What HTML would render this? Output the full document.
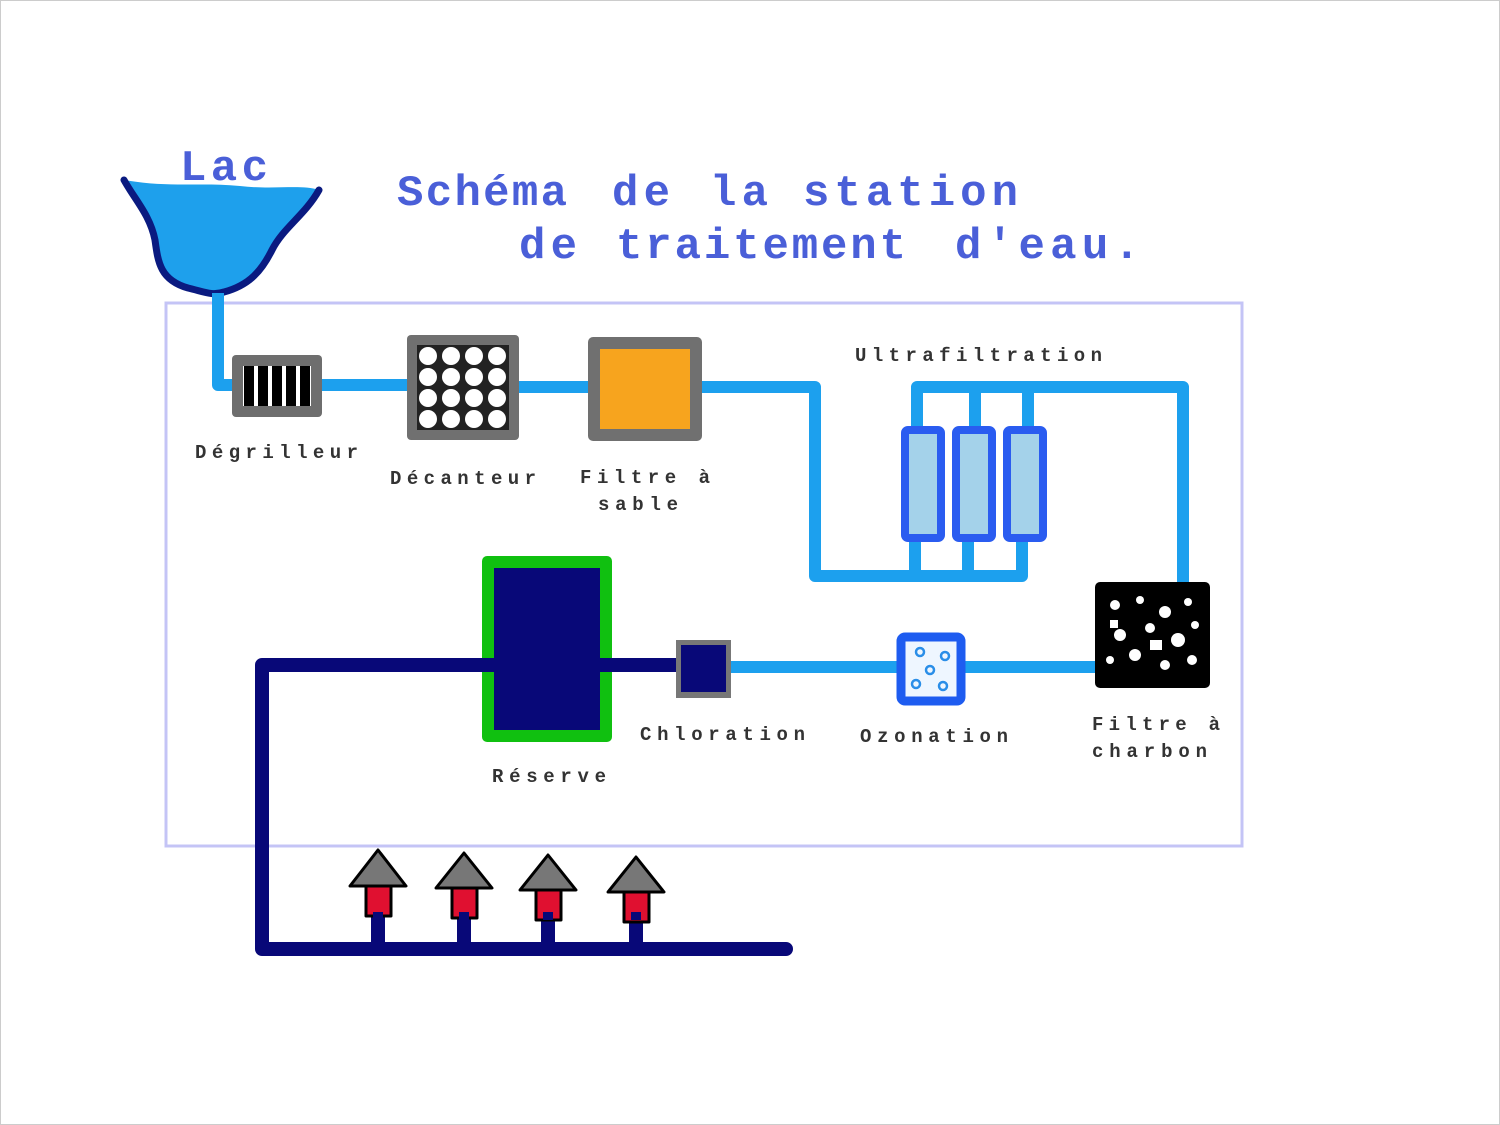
<!DOCTYPE html>
<html><head><meta charset="utf-8"><style>
html,body{margin:0;padding:0;background:#fff;}
svg{display:block;}
.t{font-family:"Liberation Mono",monospace;font-weight:bold;fill:#4a5fd8;font-size:44px;}
.l{font-family:"Liberation Mono",monospace;font-weight:bold;fill:#333;font-size:19px;}
</style></head><body>
<svg width="1500" height="1125" viewBox="0 0 1500 1125" xmlns="http://www.w3.org/2000/svg">
<rect x="0.5" y="0.5" width="1499" height="1124" fill="#fff" stroke="#ccc"/>
<!-- frame -->
<rect x="166" y="303" width="1076" height="543" fill="none" stroke="#c4c4f6" stroke-width="3"/>
<!-- lake -->
<path d="M124,180 C135,200 150,215 155,240 C158,262 160,280 188,288 C205,292 212,296 224,292 C250,285 262,270 272,250 C283,228 305,215 319,190 C300,184 275,190 240,186 C200,182 170,188 124,180 Z" fill="#1ea0ec"/>
<path d="M124,180 C135,200 150,215 155,240 C158,262 160,280 188,288 C205,292 212,296 224,292 C250,285 262,270 272,250 C283,228 305,215 319,190" fill="none" stroke="#0a1a80" stroke-width="7" stroke-linecap="round"/>
<text class="t" x="180" y="180" font-size="40" textLength="88">Lac</text>
<!-- title -->
<text class="t" x="397" y="205" textLength="170">Schéma</text>
<text class="t" x="612" y="205" textLength="58">de</text>
<text class="t" x="710" y="205" textLength="58">la</text>
<text class="t" x="803" y="205" textLength="215">station</text>
<text class="t" x="519" y="258" textLength="58">de</text>
<text class="t" x="616" y="258" textLength="290">traitement</text>
<text class="t" x="955" y="258" textLength="185">d'eau.</text>
<!-- light blue pipes -->
<g fill="none" stroke="#1ca0ee" stroke-width="12" stroke-linejoin="round">
<path d="M218,293 V385 H408"/>
<path d="M519,387 H590"/>
<path d="M700,387 H815 V576 H1022 V535"/>
<path d="M915,576 V535 M968,576 V535"/>
<path d="M917,430 V387 H1183 V585"/>
<path d="M975,387 V430 M1028,387 V430"/>
<path d="M731,667 H1100"/>
</g>
<!-- navy pipes -->
<g fill="none" stroke="#080878" stroke-width="14" stroke-linejoin="round" stroke-linecap="round">
<path d="M678,665 H262 V949 H786"/>
<path d="M378,949 V912 M464,949 V912 M548,949 V912 M636,949 V912"/>
</g>
<!-- degrilleur -->
<rect x="232" y="355" width="90" height="62" rx="4" fill="#6e6e6e"/>
<rect x="243" y="366" width="68" height="40" fill="#fff"/>
<g fill="#000"><rect x="244" y="366" width="10" height="40"/><rect x="258" y="366" width="10" height="40"/><rect x="272" y="366" width="10" height="40"/><rect x="286" y="366" width="10" height="40"/><rect x="300" y="366" width="10" height="40"/></g>
<!-- decanteur -->
<rect x="407" y="335" width="112" height="105" rx="4" fill="#707070"/>
<rect x="417" y="345" width="92" height="85" fill="#222"/>
<g fill="#fff">
<circle cx="428" cy="356" r="9"/><circle cx="451" cy="356" r="9"/><circle cx="474" cy="356" r="9"/><circle cx="497" cy="356" r="9"/>
<circle cx="428" cy="377" r="9"/><circle cx="451" cy="377" r="9"/><circle cx="474" cy="377" r="9"/><circle cx="497" cy="377" r="9"/>
<circle cx="428" cy="398" r="9"/><circle cx="451" cy="398" r="9"/><circle cx="474" cy="398" r="9"/><circle cx="497" cy="398" r="9"/>
<circle cx="428" cy="419" r="9"/><circle cx="451" cy="419" r="9"/><circle cx="474" cy="419" r="9"/><circle cx="497" cy="419" r="9"/>
</g>
<!-- sable -->
<rect x="588" y="337" width="114" height="104" rx="5" fill="#707070"/>
<rect x="600" y="349" width="90" height="80" fill="#f7a41e"/>
<!-- ultrafiltration -->
<g fill="#a4d2ea" stroke="#2a5cf0" stroke-width="8">
<rect x="905" y="430" width="36" height="108" rx="3"/>
<rect x="956" y="430" width="36" height="108" rx="3"/>
<rect x="1007" y="430" width="36" height="108" rx="3"/>
</g>
<!-- charbon -->
<rect x="1095" y="582" width="115" height="106" rx="5" fill="#000"/>
<g fill="#fff">
<circle cx="1115" cy="605" r="5"/><circle cx="1140" cy="600" r="4"/><circle cx="1165" cy="612" r="6"/><circle cx="1188" cy="602" r="4"/>
<circle cx="1120" cy="635" r="6"/><circle cx="1150" cy="628" r="5"/><circle cx="1178" cy="640" r="7"/><circle cx="1195" cy="625" r="4"/>
<circle cx="1110" cy="660" r="4"/><circle cx="1135" cy="655" r="6"/><circle cx="1165" cy="665" r="5"/><circle cx="1192" cy="660" r="5"/>
<rect x="1150" y="640" width="12" height="10"/><rect x="1110" y="620" width="8" height="8"/>
</g>
<!-- ozonation -->
<rect x="901" y="637" width="60" height="64" rx="4" fill="#eef6ff" stroke="#1e5cf0" stroke-width="9"/>
<g fill="none" stroke="#2a8ee8" stroke-width="2.5"><circle cx="920" cy="652" r="4"/><circle cx="945" cy="656" r="4"/><circle cx="930" cy="670" r="4"/><circle cx="916" cy="684" r="4"/><circle cx="943" cy="686" r="4"/></g>
<!-- chloration -->
<rect x="676" y="640" width="55" height="58" fill="#777"/>
<rect x="681" y="645" width="45" height="47" fill="#080878"/>
<!-- reserve -->
<rect x="482" y="556" width="130" height="186" rx="5" fill="#10c010"/>
<rect x="494" y="568" width="106" height="162" fill="#080878"/>
<rect x="482" y="658" width="14" height="14" fill="#080878"/>
<rect x="598" y="658" width="14" height="14" fill="#080878"/>
<!-- houses -->
<g stroke="#000" stroke-width="3" stroke-linejoin="round">
<polygon points="378,850 406,886 350,886" fill="#777"/><rect x="366" y="886" width="25" height="30" fill="#e01030"/>
<polygon points="464,853 492,888 436,888" fill="#777"/><rect x="452" y="888" width="25" height="30" fill="#e01030"/>
<polygon points="548,855 576,890 520,890" fill="#777"/><rect x="536" y="890" width="25" height="30" fill="#e01030"/>
<polygon points="636,857 664,892 608,892" fill="#777"/><rect x="624" y="892" width="25" height="30" fill="#e01030"/>
</g>
<g fill="#080878"><rect x="373" y="912" width="10" height="6"/><rect x="459" y="912" width="10" height="8"/><rect x="543" y="912" width="10" height="8"/><rect x="631" y="912" width="10" height="8"/></g>
<!-- labels -->
<text class="l" x="195" y="458" textLength="163">Dégrilleur</text>
<text class="l" x="390" y="484" textLength="146">Décanteur</text>
<text class="l" x="580" y="483" textLength="130">Filtre à</text>
<text class="l" x="598" y="510" textLength="80">sable</text>
<text class="l" x="855" y="361" textLength="247">Ultrafiltration</text>
<text class="l" x="640" y="740" textLength="165">Chloration</text>
<text class="l" x="860" y="742" textLength="148">Ozonation</text>
<text class="l" x="1092" y="730" textLength="128">Filtre à</text>
<text class="l" x="1092" y="757" textLength="115">charbon</text>
<text class="l" x="492" y="782" textLength="114">Réserve</text>
</svg>
</body></html>
